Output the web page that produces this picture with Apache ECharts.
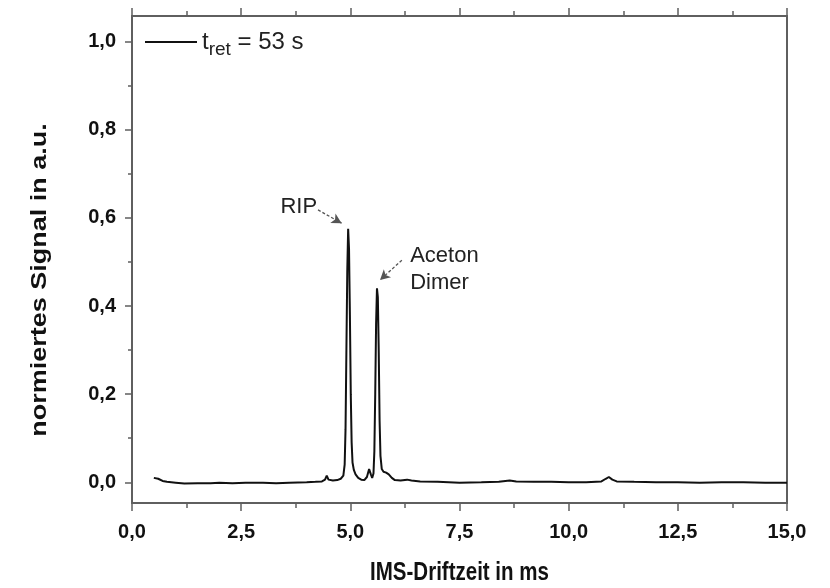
<!DOCTYPE html>
<html><head><meta charset="utf-8">
<script src="https://cdn.jsdelivr.net/npm/echarts@6/dist/echarts.min.js"></script>
<style>html,body{margin:0;padding:0;background:#fff}#c{width:830px;height:588px}</style>
</head><body><div id="c"></div>
<script>
// Drift time (ms)
var driftTime = [0.5,0.6,0.7,0.8,0.9,1.0,1.2,1.5,1.8,2.0,2.3,2.6,3.0,3.3,3.6,4.0,4.2,4.35,4.42,4.46,4.5,4.6,4.7,4.78,4.84,4.87,4.89,4.91,4.93,4.95,4.97,4.99,5.01,5.03,5.05,5.08,5.12,5.18,5.25,5.32,5.38,5.43,5.47,5.50,5.53,5.55,5.57,5.59,5.61,5.63,5.65,5.67,5.69,5.72,5.76,5.82,5.88,5.95,6.02,6.15,6.3,6.4,6.6,7.0,7.5,8.0,8.4,8.65,8.8,9.2,9.6,10.0,10.4,10.75,10.85,10.92,11.0,11.1,11.5,12.0,12.5,13.0,13.5,14.0,14.5,15.0];
// normalised signal (a.u.)
var signal = [0.010,0.008,0.003,0.001,0.000,-0.001,-0.003,-0.002,-0.002,-0.001,-0.002,-0.001,-0.001,-0.002,-0.001,0.000,0.001,0.002,0.006,0.015,0.006,0.004,0.005,0.008,0.015,0.040,0.120,0.300,0.480,0.575,0.530,0.380,0.200,0.090,0.045,0.028,0.018,0.010,0.006,0.005,0.012,0.030,0.018,0.010,0.020,0.070,0.200,0.360,0.440,0.420,0.300,0.140,0.060,0.030,0.024,0.022,0.018,0.010,0.005,0.004,0.006,0.004,0.002,0.001,-0.001,0.000,0.001,0.004,0.002,0.001,0.001,0.000,0.000,0.002,0.008,0.012,0.006,0.002,0.001,0.000,0.000,-0.001,0.000,0.000,-0.001,-0.001];
var yTicks = [0,0.2,0.4,0.6,0.8,1.0];
var yMinorTicks = [0.1,0.3,0.5,0.7,0.9];
var seriesName = 't_ret = 53 s';
var xTitle = 'IMS-Driftzeit in ms';
var yTitle = 'normiertes Signal in a.u.';

var data = driftTime.map(function(x,i){return [x, signal[i]];});
var fmt = function(v){return v.toFixed(1).replace('.', ',');};
var axisCol = '#5f5f5f';
var font = 'Liberation Sans';
var yMin = -0.047, yMax = 1.058;

var chart = echarts.init(document.getElementById('c'), null, {renderer:'canvas'});
chart.setOption({
  animation:false,
  backgroundColor:'#fff',
  grid:{left:132,right:43,top:16,bottom:85},
  graphic:[
    {type:'text', x:459.5, y:573, scaleX:0.82, silent:true,
     style:{text:xTitle, font:'bold 25px "Liberation Sans"', fill:'#111', align:'center', verticalAlign:'middle'}},
    {type:'text', x:40, y:280, rotation:Math.PI/2, scaleY:0.82, silent:true,
     style:{text:yTitle, font:'bold 27px "Liberation Sans"', fill:'#111', align:'center', verticalAlign:'middle'}}
  ],
  legend:{
    show:true, left:145, top:30, padding:0, itemWidth:52, itemHeight:2, itemGap:0,
    data:[{name:seriesName, icon:'rect'}],
    formatter:function(){return '{a|t}{b|ret}{a| = 53 s}';},
    textStyle:{fontFamily:font, color:'#222', fontSize:24,
      rich:{a:{fontSize:24, fontFamily:font, color:'#222'},
            b:{fontSize:19, fontFamily:font, color:'#222', padding:[16,0,0,0]}}}
  },
  xAxis:[{
    type:'value', position:'bottom', min:0, max:15, interval:2.5,
    axisLine:{show:true, onZero:false, lineStyle:{color:axisCol, width:2}},
    axisTick:{show:true, inside:false, length:8, lineStyle:{color:axisCol, width:1.5}},
    minorTick:{show:true, splitNumber:2, length:5, lineStyle:{color:axisCol, width:1.5}},
    axisLabel:{formatter:fmt, margin:19, fontFamily:font, fontWeight:'bold', fontSize:20, color:'#111'},
    splitLine:{show:false}
  },{
    type:'value', position:'top', min:0, max:15, interval:2.5,
    axisLine:{show:true, onZero:false, lineStyle:{color:axisCol, width:2}},
    axisTick:{show:true, inside:false, length:8, lineStyle:{color:axisCol, width:1.5}},
    minorTick:{show:true, splitNumber:2, length:5, lineStyle:{color:axisCol, width:1.5}},
    axisLabel:{show:false}, splitLine:{show:false}
  }],
  yAxis:[{
    type:'value', position:'left', min:yMin, max:yMax,
    axisLine:{show:true, onZero:false, lineStyle:{color:axisCol, width:2}},
    axisTick:{show:true, customValues:yTicks, length:7, lineStyle:{color:axisCol, width:1.5}},
    axisLabel:{customValues:yTicks, formatter:fmt, margin:16, fontFamily:font, fontWeight:'bold', fontSize:20, color:'#111'},
    splitLine:{show:false}
  },{
    type:'value', position:'left', min:yMin, max:yMax,
    axisLine:{show:false, onZero:false},
    axisTick:{show:true, customValues:yMinorTicks, length:4, lineStyle:{color:axisCol, width:1.5}},
    axisLabel:{show:false}, splitLine:{show:false}
  },{
    type:'value', position:'right', min:yMin, max:yMax,
    axisLine:{show:true, onZero:false, lineStyle:{color:axisCol, width:2}},
    axisTick:{show:false}, axisLabel:{show:false}, splitLine:{show:false}
  }],
  series:[{
    name:seriesName, type:'line', data:data, xAxisIndex:0, yAxisIndex:0,
    showSymbol:false, symbol:'none',
    lineStyle:{color:'#111', width:2},
    itemStyle:{color:'#111'},
    markLine:{
      silent:true, symbol:['none','arrow'], symbolSize:[8,10],
      lineStyle:{color:'#555', width:1.3, type:[3,2]},
      label:{show:false},
      data:[
        [{coord:[4.26,0.618]},{coord:[4.80,0.588]}],
        [{coord:[6.18,0.504]},{coord:[5.68,0.459]}]
      ]
    },
    markPoint:{
      silent:true, symbol:'circle', symbolSize:0,
      label:{show:true, fontFamily:font, fontSize:22, color:'#222', position:'inside'},
      data:[
        {coord:[3.82,0.625], value:'RIP', label:{formatter:'RIP', align:'center', verticalAlign:'middle'}},
        {coord:[6.37,0.482], value:'Aceton', label:{formatter:'Aceton\nDimer', align:'left', verticalAlign:'middle', lineHeight:27}}
      ]
    }
  }]
});
</script></body></html>
